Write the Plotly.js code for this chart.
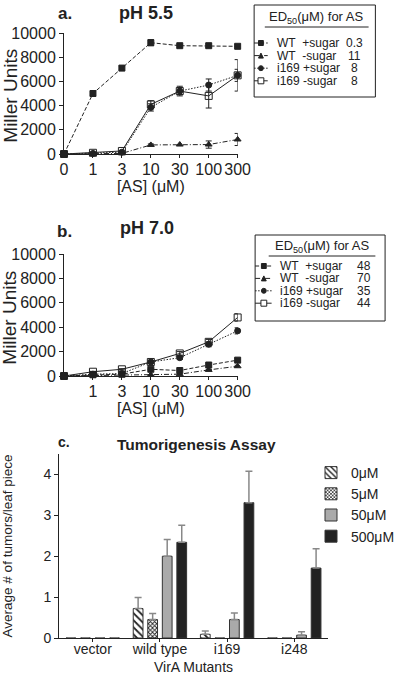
<!DOCTYPE html>
<html><head><meta charset="utf-8">
<script src="https://cdn.plot.ly/plotly-3.0.1.min.js"></script>
<style>html,body{margin:0;padding:0;background:#fff}</style>
</head><body><div id="chart" style="width:400px;height:675px"></div>
<script>
// ---------- data ----------
const concentrations = ['0', '1', '3', '10', '30', '100', '300'];
const strainNames = ['WT', 'WT', 'i169', 'i169'];
const sugarLabels = ['+sugar', '-sugar', '+sugar', '-sugar'];

// panel a : pH 5.5 (Miller units); NaN = no visible error bar
const phA_wtPlus = [0, 5000, 7100, 9200, 8950, 8950, 8900];
const phA_wtPlusErr = [NaN, 150, 150, 250, 120, 150, 150];
const phA_wtMinus = [0, 0, 50, 750, 780, 780, 1200];
const phA_wtMinusErr = [NaN, NaN, NaN, 80, NaN, 300, 500];
const phA_i169Plus = [0, 50, 150, 3850, 5200, 5700, 6500];
const phA_i169PlusErr = [NaN, NaN, NaN, 300, 300, 500, 500];
const phA_i169Minus = [0, 100, 250, 4100, 5200, 4800, 6500];
const phA_i169MinusErr = [NaN, NaN, NaN, 300, 400, 1000, 1300];
const ed50A = ['0.3', '11', '8', '8'];

// panel b : pH 7.0 (Miller units)
const phB_wtPlus = [0, 100, 150, 550, 450, 900, 1300];
const phB_wtPlusErr = [NaN, NaN, NaN, 50, 50, 80, 120];
const phB_wtMinus = [0, 50, 50, 100, 150, 500, 800];
const phB_wtMinusErr = [NaN, NaN, NaN, NaN, NaN, 50, 80];
const phB_i169Plus = [0, 150, 200, 1150, 1500, 2600, 3700];
const phB_i169PlusErr = [NaN, NaN, NaN, 80, 150, 200, 250];
const phB_i169Minus = [0, 350, 550, 1150, 1850, 2800, 4800];
const phB_i169MinusErr = [NaN, 30, 50, 80, 150, 200, 300];
const ed50B = ['48', '70', '35', '44'];

// panel c : tumorigenesis assay
const mutants = ['vector', 'wild type', 'i169', 'i248'];
const asLevels = ['0μM', '5μM', '50μM', '500μM'];
const tumors0 = [0, 0.72, 0.09, 0];
const tumors0Err = [NaN, 0.27, 0.08, NaN];
const tumors5 = [0, 0.45, 0, 0];
const tumors5Err = [NaN, 0.15, NaN, NaN];
const tumors50 = [0, 2.0, 0.45, 0.07];
const tumors50Err = [NaN, 0.41, 0.16, 0.08];
const tumors500 = [0, 2.34, 3.31, 1.71];
const tumors500Err = [NaN, 0.42, 0.77, 0.47];

// ---------- helpers ----------
const W = 400, H = 675;
const px = v => v / W;
const py = v => 1 - v / H;
const FONT = '"Liberation Sans", Arial, sans-serif';
const INK = '#222';
const NB = '\u00a0';

const styles = [
  {dash: '4px,2px', symbol: 'square', size: 6},
  {dash: '5px,2px,1px,2px', symbol: 'triangle-up', size: 6},
  {dash: '1.5px,1.5px', symbol: 'circle', size: 6},
  {dash: 'solid', symbol: 'square-open', size: 7}
];

function lineTrace(y, err, i, xa, ya) {
  return {
    type: 'scatter', mode: 'lines+markers',
    x: concentrations, y: y, xaxis: xa, yaxis: ya,
    name: strainNames[i] + ' ' + sugarLabels[i],
    showlegend: false, cliponaxis: false,
    line: {color: INK, width: 1, dash: styles[i].dash},
    marker: {symbol: styles[i].symbol, size: styles[i].size, color: INK,
             line: {color: INK, width: 1}},
    error_y: {type: 'data', array: err, visible: true, color: INK, thickness: 1, width: 3}
  };
}

const traces = [];
[[phA_wtPlus, phA_wtPlusErr], [phA_wtMinus, phA_wtMinusErr],
 [phA_i169Plus, phA_i169PlusErr], [phA_i169Minus, phA_i169MinusErr]]
  .forEach((d, i) => traces.push(lineTrace(d[0], d[1], i, 'x', 'y')));
[[phB_wtPlus, phB_wtPlusErr], [phB_wtMinus, phB_wtMinusErr],
 [phB_i169Plus, phB_i169PlusErr], [phB_i169Minus, phB_i169MinusErr]]
  .forEach((d, i) => traces.push(lineTrace(d[0], d[1], i, 'x2', 'y2')));

const barStyles = [
  {color: 'white', pattern: {shape: '\\', fgcolor: '#222', bgcolor: 'white', size: 5, solidity: 0.35}},
  {color: 'white', pattern: {shape: 'x', fgcolor: '#222', bgcolor: 'white', size: 3, solidity: 0.5}},
  {color: '#aaaaaa'},
  {color: '#222222'}
];
[[tumors0, tumors0Err], [tumors5, tumors5Err], [tumors50, tumors50Err], [tumors500, tumors500Err]]
  .forEach((d, i) => {
    traces.push({
      type: 'bar', x: mutants, y: d[0], name: asLevels[i],
      xaxis: 'x3', yaxis: 'y3',
      marker: Object.assign({line: {color: '#333', width: 1}}, barStyles[i]),
      error_y: {type: 'data', symmetric: false, array: d[1], arrayminus: d[1].map(() => 0),
                visible: true, color: '#888', thickness: 1.5, width: 3.5}
    });
  });

// ---------- axes ----------
const tickFont = {family: FONT, size: 16, color: INK};
function lineXAxis(domain, showZero) {
  const ax = {
    domain: domain, type: 'category', range: [0, 6],
    showgrid: false, zeroline: false, showline: true, linecolor: INK, linewidth: 1,
    ticks: 'outside', ticklen: 3, tickcolor: INK, tickfont: tickFont, ticklabelstandoff: -2,
    title: {text: '[AS] (μM)', font: {family: FONT, size: 16, color: INK}, standoff: 0},
    fixedrange: true
  };
  if (!showZero) { ax.tickvals = concentrations.slice(1); ax.ticktext = concentrations.slice(1); }
  return ax;
}
function lineYAxis(domain, anchor) {
  return {
    domain: domain, anchor: anchor, range: [0, 10000],
    tickvals: [0, 2000, 4000, 6000, 8000, 10000], tickformat: 'd',
    showgrid: false, zeroline: false, showline: true, linecolor: INK, linewidth: 1,
    ticks: 'outside', ticklen: 4, tickcolor: INK, tickfont: tickFont, fixedrange: true
  };
}

const layout = {
  width: W, height: H,
  margin: {l: 0, r: 0, t: 0, b: 0},
  paper_bgcolor: 'white', plot_bgcolor: 'rgba(0,0,0,0)',
  font: {family: FONT, color: INK},
  barmode: 'group', bargap: 0.134, bargroupgap: 0.33,
  xaxis: Object.assign(lineXAxis([px(66), px(245)], true), {anchor: 'y'}),
  yaxis: lineYAxis([py(154), py(33)], 'x'),
  xaxis2: Object.assign(lineXAxis([px(66), px(245)], false), {anchor: 'y2'}),
  yaxis2: lineYAxis([py(376), py(254)], 'x2'),
  xaxis3: {
    domain: [px(61), px(338)], anchor: 'y3', type: 'category', range: [-0.5, 3.5],
    showgrid: false, zeroline: false, showline: true, linecolor: INK, linewidth: 1,
    ticks: 'outside', ticklen: 3, tickcolor: INK, ticklabelstandoff: -5,
    tickfont: {family: FONT, size: 14, color: INK},
    title: {text: 'VirA Mutants', font: {family: FONT, size: 14, color: INK}, standoff: 6},
    fixedrange: true
  },
  yaxis3: {
    domain: [py(638), py(454)], anchor: 'x3', range: [0, 4.5], tickvals: [0, 1, 2, 3, 4],
    showgrid: false, zeroline: false, showline: true, linecolor: INK, linewidth: 1,
    ticks: 'outside', ticklen: 4, tickcolor: INK,
    tickfont: {family: FONT, size: 14, color: INK},
    title: {text: 'Average # of tumors/leaf piece', font: {family: FONT, size: 13.5, color: INK}, standoff: 30},
    fixedrange: true
  },
  showlegend: true,
  legend: {
    x: px(321), y: py(457), xanchor: 'left', yanchor: 'top',
    font: {family: FONT, size: 14, color: INK}, bgcolor: 'rgba(0,0,0,0)',
    borderwidth: 0, traceorder: 'normal', itemwidth: 30
  },
  annotations: [],
  shapes: []
};

const ann = layout.annotations, shp = layout.shapes;
function text(x, y, t, opts) {
  ann.push(Object.assign({xref: 'paper', yref: 'paper', x: px(x), y: py(y), text: t,
    showarrow: false, xanchor: 'center', yanchor: 'middle',
    font: {family: FONT, size: 13, color: INK}}, opts || {}));
}
// panel titles
text(67, 13, '<b>a.</b>', {font: {family: FONT, size: 17, color: INK}});
text(151, 13, '<b>pH 5.5</b>', {font: {family: FONT, size: 18, color: INK}});
text(67, 231, '<b>b.</b>', {font: {family: FONT, size: 17, color: INK}});
text(152, 228, '<b>pH 7.0</b>', {font: {family: FONT, size: 18, color: INK}});
text(66, 442, '<b>c.</b>', {font: {family: FONT, size: 14, color: INK}});
text(203, 445, '<b>Tumorigenesis Assay</b>', {font: {family: FONT, size: 15.5, color: INK}});
// y titles of the line panels
text(10, 96, 'Miller Units', {textangle: -90, font: {family: FONT, size: 19, color: INK}});
text(10, 318, 'Miller Units', {textangle: -90, font: {family: FONT, size: 19, color: INK}});

// ED50 legend boxes
const entryLabels = strainNames.map((s, i) => s + (s.length < 3 ? NB + NB : NB) + sugarLabels[i]);
function edBox(box, ed50) {
  shp.push({type: 'rect', xref: 'paper', yref: 'paper', x0: px(box.x0), x1: px(box.x1),
            y0: py(box.y0), y1: py(box.y1), line: {color: INK, width: 1}, fillcolor: 'white', layer: 'above'});
  text(box.titleX, box.titleY, 'ED<sub>50</sub>(μM) for AS', {font: {family: FONT, size: 13, color: INK}});
  shp.push({type: 'line', xref: 'paper', yref: 'paper', x0: px(box.ulX0), x1: px(box.ulX1),
            y0: py(box.ulY), y1: py(box.ulY), line: {color: INK, width: 1}});
  for (let i = 0; i < 4; i++) {
    const yy = box.rowY + i * box.rowH;
    shp.push({type: 'line', xref: 'paper', yref: 'paper', x0: px(box.symX0), x1: px(box.symX1),
              y0: py(yy), y1: py(yy), line: {color: INK, width: 1, dash: styles[i].dash}});
    const cx = box.symC, s = 2.5;
    const mk = {xref: 'paper', yref: 'paper', line: {color: INK, width: 1}, fillcolor: INK};
    if (i === 0) shp.push(Object.assign({type: 'rect', x0: px(cx - s), x1: px(cx + s), y0: py(yy - s), y1: py(yy + s)}, mk));
    if (i === 1) shp.push(Object.assign({type: 'path', path: `M${px(cx - s)},${py(yy + s)} L${px(cx + s)},${py(yy + s)} L${px(cx)},${py(yy - s)} Z`}, mk));
    if (i === 2) shp.push(Object.assign({type: 'circle', x0: px(cx - s), x1: px(cx + s), y0: py(yy - s), y1: py(yy + s)}, mk));
    if (i === 3) shp.push(Object.assign({type: 'rect', x0: px(cx - 3), x1: px(cx + 3), y0: py(yy - 3), y1: py(yy + 3)}, mk, {fillcolor: 'white'}));
    text(box.nameX, yy, entryLabels[i], {xanchor: 'left', font: {family: FONT, size: 12, color: INK}});
    text(box.valX, yy, ed50[i], {font: {family: FONT, size: 12, color: INK}});
  }
}
edBox({x0: 262, x1: 387, y0: 5, y1: 97, titleX: 326, titleY: 17, ulX0: 273, ulX1: 380, ulY: 27,
       rowY: 43, rowH: 12.6, symX0: 262, symX1: 276, symC: 269, nameX: 283, valX: 365}, ed50A);
edBox({x0: 263, x1: 397, y0: 235, y1: 321, titleX: 332, titleY: 246, ulX0: 277, ulX1: 387, ulY: 256,
       rowY: 266, rowH: 12.4, symX0: 263, symX1: 280, symC: 272, nameX: 287, valX: 375}, ed50B);

Plotly.newPlot('chart', traces, layout, {displayModeBar: false, staticPlot: true});
</script>
</body></html>
